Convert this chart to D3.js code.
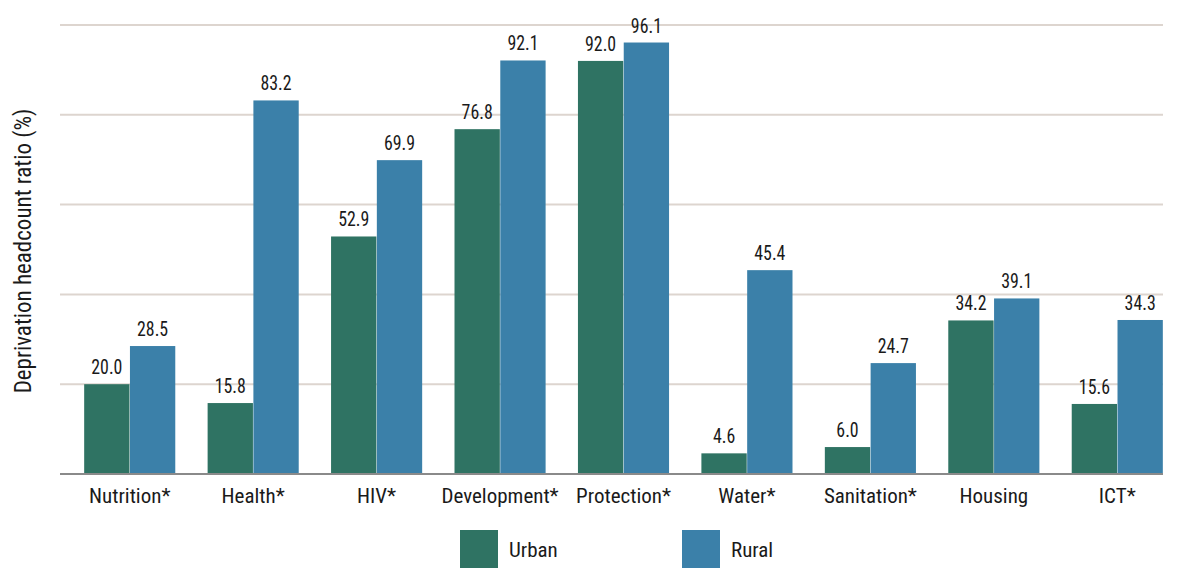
<!DOCTYPE html>
<html><head><meta charset="utf-8">
<script src="https://cdn.jsdelivr.net/npm/d3@7"></script>
<style>
body{margin:0;background:#fff;}
text{font-family:"Roboto Condensed",Roboto,sans-serif;fill:#1a1a1a;}
</style></head>
<body><svg id="c" width="1177" height="568"></svg>
<script>
const categories = ["Nutrition*","Health*","HIV*","Development*","Protection*","Water*","Sanitation*","Housing","ICT*"];
const urban = [20.0,15.8,52.9,76.8,92.0,4.6,6.0,34.2,15.6];
const rural = [28.5,83.2,69.9,92.1,96.1,45.4,24.7,39.1,34.3];
const seriesNames = ["Urban","Rural"];
const colors = ["#2f7363","#3b80a9"];
const yTicks = [0,20,40,60,80,100];

const svg = d3.select("#c");
const x0 = d3.scaleBand().domain(categories).range([68,1179]).paddingInner(0.262).paddingOuter(0.131);
const x1 = d3.scaleBand().domain(seriesNames).range([0,x0.bandwidth()]).paddingInner(0.01);
const y = d3.scaleLinear().domain([0,100]).range([474,25]);

// gridlines
svg.append("g").selectAll("line").data(yTicks.slice(1)).join("line")
  .attr("x1",60).attr("x2",1163).attr("y1",d=>y(d)).attr("y2",d=>y(d))
  .attr("stroke","#ddd5cf").attr("stroke-width",2);

const data = categories.map((c,i)=>({c, vals:[urban[i],rural[i]]}));
const g = svg.append("g").selectAll("g").data(data).join("g")
  .attr("transform",d=>`translate(${x0(d.c)},0)`);
g.selectAll("rect").data(d=>d.vals.map((v,j)=>({v,s:seriesNames[j],j}))).join("rect")
  .attr("x",d=>x1(d.s)).attr("width",x1.bandwidth())
  .attr("y",d=>y(d.v)).attr("height",d=>y(0)-y(d.v))
  .attr("fill",d=>colors[d.j]);
g.selectAll("text.v").data(d=>d.vals.map((v,j)=>({v,s:seriesNames[j],j}))).join("text")
  .attr("class","v")
  .attr("transform",d=>`translate(${x1(d.s)+x1.bandwidth()/2},${y(d.v)-10}) scale(0.85,1)`)
  .attr("text-anchor","middle").attr("font-size",21)
  .text(d=>d.v.toFixed(1));

// x axis
const xAxis = d3.axisBottom(x0).tickSize(0).tickPadding(14);
const ax = svg.append("g").attr("transform",`translate(0,${y(0)})`).call(xAxis);
ax.select(".domain").remove();
ax.selectAll("text").attr("font-size",21).attr("fill","#1a1a1a").attr("font-family",null);
svg.append("line").attr("x1",60).attr("x2",1163).attr("y1",y(0)).attr("y2",y(0))
  .attr("stroke","#8a8a8a").attr("stroke-width",2);

// y label
svg.append("text").attr("transform","translate(31,251) rotate(-90)")
  .attr("text-anchor","middle").attr("font-size",23)
  .text("Deprivation headcount ratio (%)");

// legend
const legX = [460,682];
const leg = svg.append("g").selectAll("g").data(seriesNames).join("g")
  .attr("transform",(d,i)=>`translate(${legX[i]},530)`);
leg.append("rect").attr("width",38).attr("height",38).attr("fill",(d,i)=>colors[i]);
leg.append("text").attr("x",49).attr("y",27).attr("font-size",21).text(d=>d);
</script></body></html>
